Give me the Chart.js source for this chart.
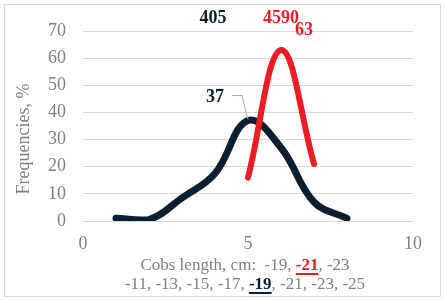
<!DOCTYPE html>
<html>
<head>
<meta charset="utf-8">
<script src="https://cdn.jsdelivr.net/npm/chart.js@4"></script>
<style>
  html, body { margin: 0; padding: 0; background: #fff; }
  #wrap { width: 446px; height: 300px; position: relative; }
</style>
</head>
<body>
<div id="wrap"><canvas id="chart" width="446" height="300"></canvas></div>
<script>
// Data
const blackX = [1, 2, 3, 4, 5, 6, 7, 8];
const blackY = [1, 0.5, 8.5, 17.5, 37, 27, 7, 1];
const redX = [5, 6, 7];
const redY = [16, 63, 21];
const yTicks = [0, 10, 20, 30, 40, 50, 60, 70];
const xTicks = [0, 5, 10];

const DARK = '#0c1f2f';
const RED = '#ee1c24';
const GREY = '#7f7f7f';
const FONT = '"Liberation Serif", "Times New Roman", serif';

function toPoints(xs, ys) {
    return xs.map((x, i) => ({ x: x, y: ys[i] }));
}

// draws frame, axis title, labels and leader line
const extras = {
    id: 'extras',
    beforeDraw(chart) {
        const ctx = chart.ctx;
        ctx.save();
        ctx.strokeStyle = '#d9d9d9';
        ctx.lineWidth = 1;
        ctx.strokeRect(4.5, 4.5, 436, 292);
        ctx.restore();
    },
    afterDraw(chart) {
        const ctx = chart.ctx;
        const xs = chart.scales.x;
        const ys = chart.scales.y;
        ctx.save();

        // y axis title
        ctx.fillStyle = GREY;
        ctx.font = '18px ' + FONT;
        ctx.textAlign = 'center';
        ctx.textBaseline = 'middle';
        ctx.translate(24, 139);
        ctx.rotate(-Math.PI / 2);
        ctx.fillText('Frequencies, %', 0, 0);
        ctx.setTransform(1, 0, 0, 1, 0, 0);

        // x axis title, two lines with highlighted parts
        const lines = [
            [['Cobs length, cm:  -19, ', GREY, false], ['-21', RED, true], [', -23', GREY, false]],
            [['-11, -13, -15, -17, ', GREY, false], ['-19', DARK, true], [', -21, -23, -25', GREY, false]]
        ];
        const lineY = [266, 285];
        lines.forEach((parts, li) => {
            let total = 0;
            parts.forEach(p => {
                ctx.font = (p[2] ? 'bold ' : '') + '17px ' + FONT;
                total += ctx.measureText(p[0]).width;
            });
            let x = 245 - total / 2;
            ctx.textAlign = 'left';
            ctx.textBaseline = 'middle';
            parts.forEach(p => {
                ctx.font = (p[2] ? 'bold ' : '') + '17px ' + FONT;
                const w = ctx.measureText(p[0]).width;
                ctx.fillStyle = p[1];
                ctx.fillText(p[0], x, lineY[li]);
                if (p[2]) {
                    ctx.fillRect(x, lineY[li] + 7, w, 2);
                }
                x += w;
            });
        });

        // data labels
        ctx.font = 'bold 18px ' + FONT;
        ctx.textAlign = 'center';
        ctx.textBaseline = 'middle';
        ctx.fillStyle = DARK;
        ctx.fillText('405', xs.getPixelForValue(4) - 2, 18);
        ctx.fillText('37', xs.getPixelForValue(5) - 33, ys.getPixelForValue(37) - 23);
        ctx.fillStyle = RED;
        ctx.fillText('4590', xs.getPixelForValue(6), 18);
        ctx.fillText('63', xs.getPixelForValue(6) + 23, ys.getPixelForValue(63) - 20);

        // leader line for 37
        const px = xs.getPixelForValue(5);
        const py = ys.getPixelForValue(37);
        ctx.strokeStyle = '#a6a6a6';
        ctx.lineWidth = 1;
        ctx.beginPath();
        ctx.moveTo(px - 16, py - 25);
        ctx.lineTo(px - 6, py - 25);
        ctx.lineTo(px, py - 1);
        ctx.stroke();

        ctx.restore();
    }
};

new Chart(document.getElementById('chart'), {
    type: 'line',
    data: {
        datasets: [
            {
                data: toPoints(redX, redY),
                borderColor: RED,
                borderWidth: 6,
                tension: 0.4,
                pointRadius: 0,
                borderCapStyle: 'round',
                fill: false
            },
            {
                data: toPoints(blackX, blackY),
                borderColor: DARK,
                borderWidth: 7,
                tension: 0.4,
                pointRadius: 0,
                borderCapStyle: 'round',
                fill: false
            }
        ]
    },
    options: {
        responsive: false,
        animation: false,
        layout: { padding: { top: 31, right: 33, left: 0, bottom: 0 } },
        plugins: {
            legend: { display: false },
            tooltip: { enabled: false }
        },
        scales: {
            x: {
                type: 'linear',
                min: 0,
                max: 10,
                afterBuildTicks: function(scale) {
                    scale.ticks = xTicks.map(v => ({ value: v }));
                },
                afterFit: function(scale) { scale.height = 79; },
                grid: { display: false, drawTicks: false },
                border: { display: false },
                ticks: {
                    color: GREY,
                    font: { family: FONT, size: 18 },
                    padding: 12
                }
            },
            y: {
                min: 0,
                max: 70,
                afterBuildTicks: function(scale) {
                    scale.ticks = yTicks.map(v => ({ value: v }));
                },
                afterFit: function(scale) { scale.width = 83; },
                grid: { color: '#d9d9d9', lineWidth: 1, drawTicks: false },
                border: { display: false },
                ticks: {
                    color: GREY,
                    font: { family: FONT, size: 18 },
                    padding: 17
                }
            }
        }
    },
    plugins: [extras]
});
</script>
</body>
</html>
